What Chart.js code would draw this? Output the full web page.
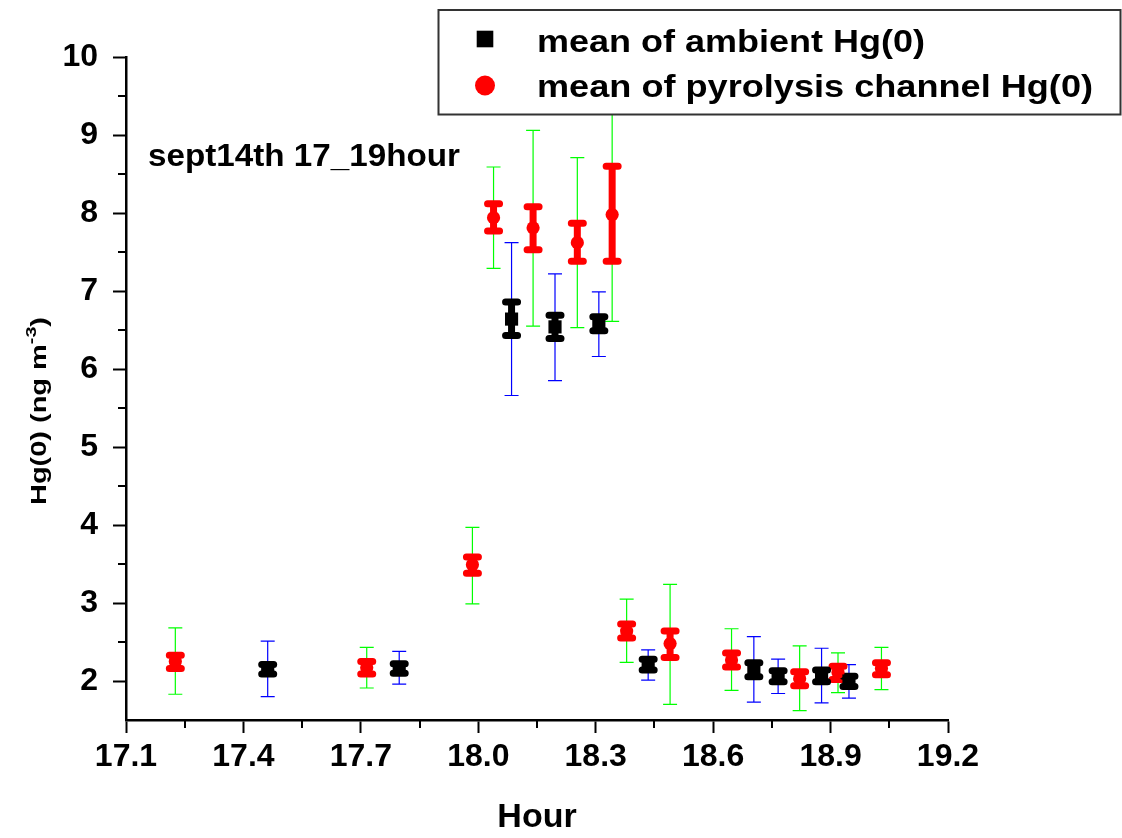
<!DOCTYPE html>
<html><head><meta charset="utf-8">
<script src="https://cdn.jsdelivr.net/npm/chart.js@4.4.1/dist/chart.umd.min.js"></script>
<style>html,body{margin:0;padding:0;background:#fff;}canvas{display:block;}</style>
</head><body>
<canvas id="c" width="1122" height="838"></canvas>
<script>
// ---- axis ticks ----
const xTicks = [17.1, 17.4, 17.7, 18.0, 18.3, 18.6, 18.9, 19.2];
const xMinorTicks = [17.25, 17.55, 17.85, 18.15, 18.45, 18.75, 19.05];
const yTicks = [2, 3, 4, 5, 6, 7, 8, 9, 10];
const yMinorTicks = [2.5, 3.5, 4.5, 5.5, 6.5, 7.5, 8.5, 9.5];

// ---- mean of ambient Hg(0) ----
const ambientHour   = [17.462, 17.798, 18.085, 18.196, 18.308, 18.434, 18.704, 18.766, 18.877, 18.947];
const ambientMean   = [2.15, 2.16, 6.64, 6.54, 6.58, 2.21, 2.15, 2.06, 2.06, 2.00];
const ambientSeLow  = [2.09, 2.10, 6.43, 6.39, 6.49, 2.14, 2.055, 1.99, 1.99, 1.93];
const ambientSeHigh = [2.21, 2.22, 6.86, 6.69, 6.67, 2.28, 2.235, 2.13, 2.14, 2.06];
const ambientSdLow  = [1.80, 1.96, 5.66, 5.85, 6.16, 2.01, 1.73, 1.84, 1.72, 1.78];
const ambientSdHigh = [2.51, 2.38, 7.62, 7.22, 6.99, 2.40, 2.57, 2.28, 2.42, 2.21];

// ---- mean of pyrolysis channel Hg(0) ----
const pyroHour   = [17.226, 17.715, 17.985, 18.039, 18.140, 18.253, 18.342, 18.379, 18.490, 18.647, 18.821, 18.919, 19.030];
const pyroMean   = [2.25, 2.17, 3.49, 7.94, 7.81, 7.62, 7.98, 2.64, 2.48, 2.27, 2.03, 2.11, 2.16];
const pyroSeLow  = [2.16, 2.09, 3.38, 7.77, 7.53, 7.38, 7.38, 2.55, 2.30, 2.18, 1.94, 2.02, 2.08];
const pyroSeHigh = [2.33, 2.25, 3.59, 8.12, 8.08, 7.87, 8.60, 2.73, 2.64, 2.36, 2.12, 2.19, 2.235];
const pyroSdLow  = [1.83, 1.91, 2.99, 7.29, 6.55, 6.53, 6.61, 2.24, 1.70, 1.88, 1.62, 1.85, 1.89];
const pyroSdHigh = [2.68, 2.43, 3.97, 8.59, 9.06, 8.71, 9.36, 3.05, 3.24, 2.67, 2.45, 2.36, 2.43];

const FONT = '"Liberation Sans", Arial, sans-serif';

function fitText(ctx, text, x, y, width, font) {
  ctx.font = font;
  const w = ctx.measureText(text).width;
  ctx.save();
  ctx.translate(x, y);
  ctx.scale(width / w, 1);
  ctx.fillText(text, 0, 0);
  ctx.restore();
}

const errorBars = {
  id: 'errorBars',
  beforeDatasetsDraw(chart) {
    const ctx = chart.ctx, xs = chart.scales.x, ys = chart.scales.y;
    const groups = [
      {hour: pyroHour, sdLo: pyroSdLow, sdHi: pyroSdHigh, seLo: pyroSeLow, seHi: pyroSeHigh, thin: '#00ff00', thick: '#ff0000'},
      {hour: ambientHour, sdLo: ambientSdLow, sdHi: ambientSdHigh, seLo: ambientSeLow, seHi: ambientSeHigh, thin: '#0000ff', thick: '#000000'}
    ];
    ctx.save();
    // thin (SD) bars
    ctx.lineWidth = 1.2; ctx.lineCap = 'butt';
    for (const g of groups) {
      ctx.strokeStyle = g.thin;
      for (let i = 0; i < g.hour.length; i++) {
        const px = xs.getPixelForValue(g.hour[i]);
        const y1 = ys.getPixelForValue(g.sdLo[i]);
        const y2 = ys.getPixelForValue(g.sdHi[i]);
        ctx.beginPath();
        ctx.moveTo(px, y1); ctx.lineTo(px, y2);
        ctx.moveTo(px - 7, y1); ctx.lineTo(px + 7, y1);
        ctx.moveTo(px - 7, y2); ctx.lineTo(px + 7, y2);
        ctx.stroke();
      }
    }
    // thick (SE) bars
    ctx.lineWidth = 7; ctx.lineCap = 'round';
    for (const g of groups) {
      ctx.strokeStyle = g.thick;
      for (let i = 0; i < g.hour.length; i++) {
        const px = xs.getPixelForValue(g.hour[i]);
        const y1 = ys.getPixelForValue(g.seLo[i]);
        const y2 = ys.getPixelForValue(g.seHi[i]);
        ctx.beginPath();
        ctx.moveTo(px, y1); ctx.lineTo(px, y2);
        ctx.moveTo(px - 6, y1); ctx.lineTo(px + 6, y1);
        ctx.moveTo(px - 6, y2); ctx.lineTo(px + 6, y2);
        ctx.stroke();
      }
    }
    ctx.restore();
  }
};

const decorations = {
  id: 'decorations',
  afterDraw(chart) {
    const ctx = chart.ctx, xs = chart.scales.x, ys = chart.scales.y;
    const area = chart.chartArea;
    ctx.save();
    // minor ticks
    ctx.strokeStyle = '#000'; ctx.lineWidth = 2; ctx.lineCap = 'butt';
    ctx.beginPath();
    for (const v of xMinorTicks) {
      const px = Math.round(xs.getPixelForValue(v));
      ctx.moveTo(px, area.bottom); ctx.lineTo(px, area.bottom + 8);
    }
    for (const v of yMinorTicks) {
      const py = Math.round(ys.getPixelForValue(v));
      ctx.moveTo(area.left, py); ctx.lineTo(area.left - 8, py);
    }
    ctx.stroke();

    // annotation text
    ctx.fillStyle = '#000';
    ctx.textBaseline = 'alphabetic'; ctx.textAlign = 'left';
    fitText(ctx, 'sept14th 17_19hour', 148, 166, 312, 'bold 32px ' + FONT);

    // y axis title (rotated, with superscript)
    ctx.save();
    ctx.translate(45.5, 411);
    ctx.rotate(-Math.PI / 2);
    const mainFont = 'bold 22px ' + FONT, supFont = 'bold 15px ' + FONT;
    ctx.font = mainFont; const w1 = ctx.measureText('Hg(0) (ng m').width; const w3 = ctx.measureText(')').width;
    ctx.font = supFont; const w2 = ctx.measureText('-3').width;
    const total = w1 + w2 + w3, target = 188, s = target / total;
    ctx.scale(s, 1);
    let x0 = -total / 2;
    ctx.font = mainFont; ctx.fillText('Hg(0) (ng m', x0, 0);
    ctx.font = supFont; ctx.fillText('-3', x0 + w1, -9.5);
    ctx.font = mainFont; ctx.fillText(')', x0 + w1 + w2, 0);
    ctx.restore();

    // legend box
    ctx.fillStyle = '#fff';
    ctx.fillRect(438.5, 10, 682, 104.5);
    ctx.strokeStyle = '#333'; ctx.lineWidth = 2;
    ctx.strokeRect(438.5, 10, 682, 104.5);
    ctx.fillStyle = '#000';
    ctx.fillRect(476.7, 30.7, 16.6, 16.6);
    ctx.fillStyle = '#ff0000';
    ctx.beginPath(); ctx.arc(485, 85.5, 10, 0, Math.PI * 2); ctx.fill();
    ctx.fillStyle = '#000';
    fitText(ctx, 'mean of ambient Hg(0)', 537, 52, 388, 'bold 31px ' + FONT);
    fitText(ctx, 'mean of pyrolysis channel Hg(0)', 537, 97, 556, 'bold 31px ' + FONT);
    ctx.restore();
  }
};

const ambientPoints = ambientHour.map((h, i) => ({x: h, y: ambientMean[i]}));
const pyroPoints = pyroHour.map((h, i) => ({x: h, y: pyroMean[i]}));

new Chart(document.getElementById('c'), {
  type: 'scatter',
  data: {
    datasets: [
      {label: 'mean of ambient Hg(0)', data: ambientPoints, pointStyle: 'rect', pointRadius: 9.3,
       backgroundColor: '#000', borderWidth: 0},
      {label: 'mean of pyrolysis channel Hg(0)', data: pyroPoints, pointStyle: 'circle', pointRadius: 6.6,
       backgroundColor: '#ff0000', borderWidth: 0}
    ]
  },
  options: {
    responsive: false, animation: false, devicePixelRatio: 1,
    layout: {padding: {left: 0, top: 57, right: 174, bottom: 0}},
    plugins: {legend: {display: false}, tooltip: {enabled: false}},
    scales: {
      x: {
        type: 'linear', min: 17.1, max: 19.2,
        afterFit: s => { s.height = 118; },
        afterBuildTicks: s => { s.ticks = xTicks.map(v => ({value: v})); },
        grid: {display: true, drawOnChartArea: false, tickLength: 13, tickWidth: 2, tickColor: '#000'},
        border: {display: true, width: 2.5, color: '#000'},
        ticks: {color: '#000', padding: 5, maxRotation: 0, autoSkip: false,
                font: {family: FONT, size: 32, weight: 'bold'},
                callback: v => Number(v).toFixed(1)},
        title: {display: true, text: 'Hour', color: '#000', padding: {top: 0, bottom: 0},
                font: {family: FONT, size: 34, weight: 'bold'}}
      },
      y: {
        type: 'linear', min: 1.5, max: 10,
        afterFit: s => { s.width = 126; },
        afterBuildTicks: s => { s.ticks = yTicks.map(v => ({value: v})); },
        grid: {display: true, drawOnChartArea: false, tickLength: 13, tickWidth: 2, tickColor: '#000'},
        border: {display: true, width: 2.5, color: '#000'},
        ticks: {color: '#000', padding: 15, autoSkip: false,
                font: {family: FONT, size: 32, weight: 'bold'},
                callback: v => String(v)}
      }
    }
  },
  plugins: [errorBars, decorations]
});
</script>
</body></html>
